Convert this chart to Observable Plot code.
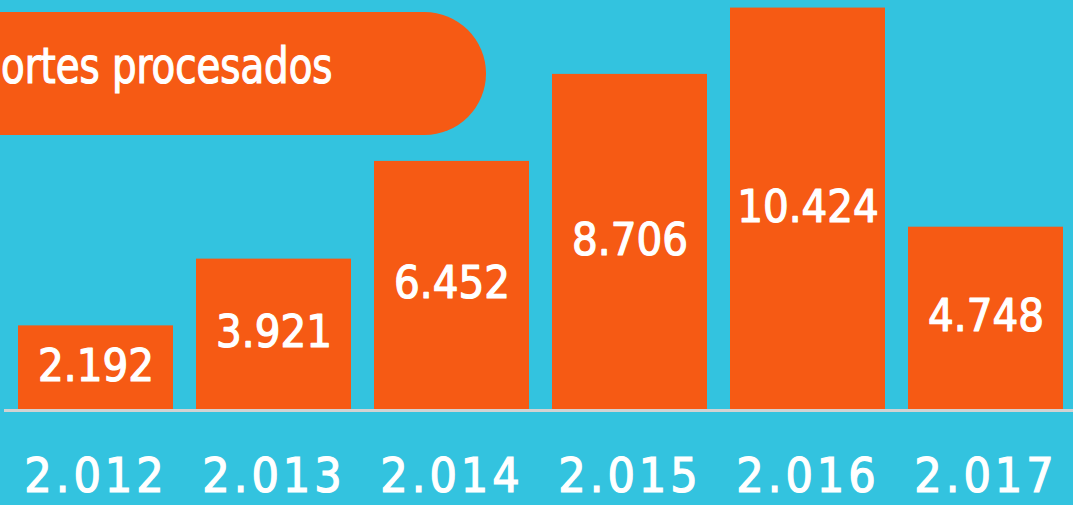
<!DOCTYPE html>
<html>
<head>
<meta charset="utf-8">
<script src="https://cdn.jsdelivr.net/npm/d3@7"></script>
<script src="https://cdn.jsdelivr.net/npm/@observablehq/plot@0.6"></script>
<style>
  html, body { margin: 0; padding: 0; background: #33C3DF; }
  #wrap { position: relative; width: 1073px; height: 505px; overflow: hidden; background: #33C3DF; }
  #pill {
    position: absolute; left: -80px; top: 12px; width: 566px; height: 123px;
    background: #F65A14; border-radius: 0 61.5px 61.5px 0; z-index: 2;
  }
  #pill span {
    position: absolute; left: 81px; top: 29px; line-height: 1;
    font-family: "DejaVu Sans Condensed", "DejaVu Sans", sans-serif; font-stretch: condensed;
    font-size: 50px; font-weight: 400; color: #fff; white-space: nowrap;
    -webkit-text-stroke: 1.2px #fff;
    transform: scaleX(0.86); transform-origin: 0 50%;
  }
  svg text { font-family: "DejaVu Sans Condensed", "DejaVu Sans", sans-serif; font-stretch: condensed; }
</style>
</head>
<body>
<div id="wrap">
  <div id="pill"><span>ortes procesados</span></div>
</div>
<script>
const years = ["2.012", "2.013", "2.014", "2.015", "2.016", "2.017"];
const values = [2192, 3921, 6452, 8706, 10424, 4748];

const fmt = d3.formatLocale({decimal: ",", thousands: ".", grouping: [3], currency: ["", ""]}).format(",");
const data = years.map((year, i) => ({year, value: values[i]}));

const chart = Plot.plot({
  width: 1073,
  height: 505,
  marginTop: 0,
  marginBottom: 95,
  marginLeft: 4,
  marginRight: 0,
  style: {background: "#33C3DF", overflow: "visible"},
  x: {domain: years, range: [5.4, 1075.8], paddingInner: 0.131, paddingOuter: 0.065, align: 0.5, label: null},
  y: {domain: [0, 10620], axis: null},
  marks: [
    Plot.barY(data, {x: "year", y: "value", fill: "#F65A14"}),
    Plot.ruleY([0], {stroke: "#D2D2D2", strokeWidth: 3}),
    Plot.text(data, {
      x: "year", y: d => d.value / 2, text: d => fmt(d.value),
      fill: "white", stroke: "white", strokeWidth: 1.2, fontSize: 45, lineAnchor: "middle", dy: -2,
      style: {letterSpacing: "1px"}
    }),
    Plot.axisX({tickSize: 0, tickPadding: 47, fontSize: 48, color: "white", label: null})
  ]
});
document.getElementById("wrap").appendChild(chart);
// styling the axis labels (weight / spacing) to match the reference
d3.select(chart).selectAll("g[aria-label='x-axis tick label'] text")
  .attr("stroke", "white").attr("stroke-width", 1.2).style("letter-spacing", "4px");
</script>
</body>
</html>
